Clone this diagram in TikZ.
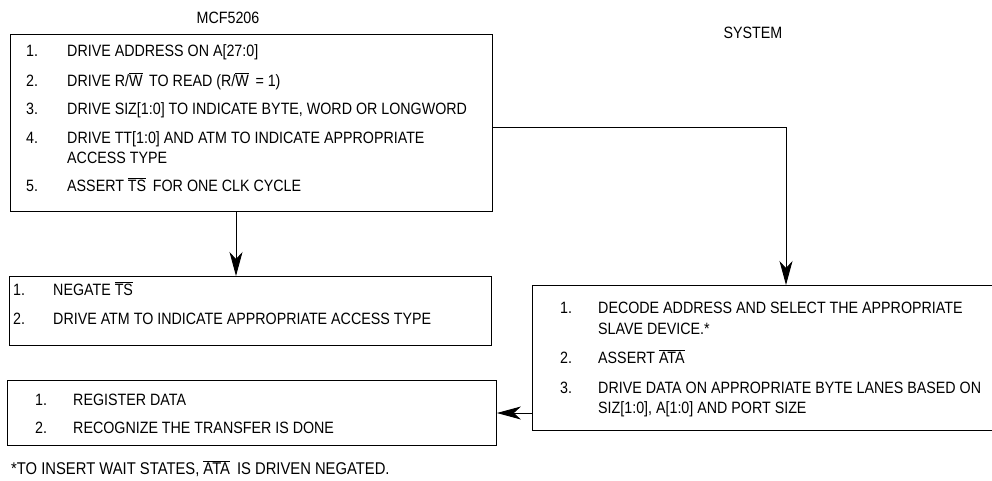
\documentclass[tikz,border=0pt]{standalone}
\usepackage{fontspec}
\setmainfont[FakeStretch=0.87]{Liberation Sans}
\usetikzlibrary{arrows.meta}
\newcommand{\ovl}[1]{$\overline{\mbox{#1}}$}
\begin{document}
\begin{tikzpicture}[x=1pt,y=-1pt,
  box/.style={draw=black,line width=0.9pt,rectangle,inner sep=0pt,anchor=north west},
  txt/.style={anchor=base west,inner sep=0pt,font=\fontsize{16.4}{18}\selectfont},
  lbl/.style={anchor=base,inner sep=0pt,font=\fontsize{16.4}{18}\selectfont},
  conn/.style={draw=black,line width=0.9pt},
  arr/.style={conn,-{Stealth[length=24pt,width=13pt,inset=7pt]}}]
\useasboundingbox (0,0) rectangle (992,480);
% boxes
\node[box,minimum width=482pt,minimum height=177pt] (A) at (10,34) {};
\node[box,minimum width=482pt,minimum height=69pt] (B) at (9,276) {};
\node[box,minimum width=489pt,minimum height=65pt] (C) at (7,380) {};
\node[box,minimum width=461pt,minimum height=145pt] (D) at (532,285) {};
% titles
\node[lbl] (t1) at (228,23) {MCF5206};
\node[lbl] (t2) at (753,38) {SYSTEM};
% box A text
\node[txt] (a1n) at (26,56) {1.};
\node[txt] (a1) at (67,56) {DRIVE ADDRESS ON A[27:0]};
\node[txt] (a2n) at (26,86) {2.};
\node[txt] (a2) at (67,86) {DRIVE R/\ovl{W}\, TO READ (R/\ovl{W}\, = 1)};
\node[txt] (a3n) at (26,114) {3.};
\node[txt] (a3) at (67,114) {DRIVE SIZ[1:0] TO INDICATE BYTE, WORD OR LONGWORD};
\node[txt] (a4n) at (26,143) {4.};
\node[txt] (a4) at (67,143) {DRIVE TT[1:0] AND ATM TO INDICATE APPROPRIATE};
\node[txt] (a4b) at (67,163) {ACCESS TYPE};
\node[txt] (a5n) at (26,191) {5.};
\node[txt] (a5) at (67,191) {ASSERT \ovl{TS}\, FOR ONE CLK CYCLE};
% box B text
\node[txt] (b1n) at (13,295) {1.};
\node[txt] (b1) at (53,295) {NEGATE \ovl{TS}};
\node[txt] (b2n) at (13,324) {2.};
\node[txt] (b2) at (53,324) {DRIVE ATM TO INDICATE APPROPRIATE ACCESS TYPE};
% box C text
\node[txt] (c1n) at (35,405) {1.};
\node[txt] (c1) at (73,405) {REGISTER DATA};
\node[txt] (c2n) at (35,433) {2.};
\node[txt] (c2) at (73,433) {RECOGNIZE THE TRANSFER IS DONE};
% box D text
\node[txt] (d1n) at (560,313) {1.};
\node[txt] (d1) at (598,313) {DECODE ADDRESS AND SELECT THE APPROPRIATE};
\node[txt] (d1b) at (598,334) {SLAVE DEVICE.*};
\node[txt] (d2n) at (560,363) {2.};
\node[txt] (d2) at (598,363) {ASSERT \ovl{ATA}};
\node[txt] (d3n) at (560,393) {3.};
\node[txt] (d3) at (598,393) {DRIVE DATA ON APPROPRIATE BYTE LANES BASED ON};
\node[txt] (d3b) at (598,413) {SIZ[1:0], A[1:0] AND PORT SIZE};
% footnote
\node[txt,font=\fontsize{17}{18}\selectfont] (fn) at (11,474) {*TO INSERT WAIT STATES, \ovl{ATA}\, IS DRIVEN NEGATED.};
% connectors
\coordinate (j1) at (236,0);
\coordinate (j2) at (786,127);
\coordinate (j3) at (0,413);
\draw[arr] (A.south -| j1) -- (B.north -| j1);
\draw[conn] (A.east |- j2) -- (j2);
\draw[arr] (j2) -- (D.north -| j2);
\draw[arr] (D.west |- j3) -- (C.east |- j3);
\end{tikzpicture}
\end{document}
